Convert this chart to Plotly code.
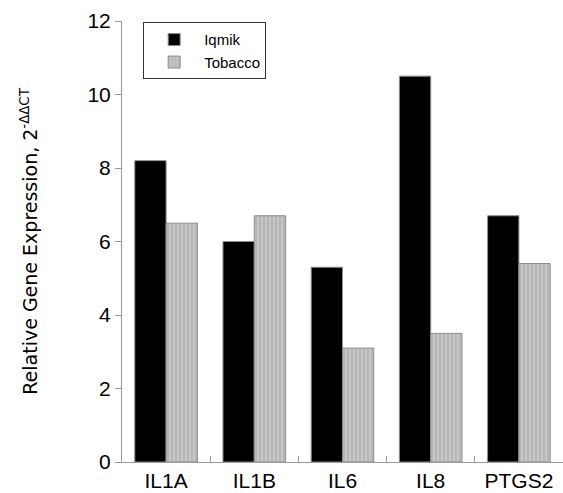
import plotly.graph_objects as go

genes = ["IL1A", "IL1B", "IL6", "IL8", "PTGS2"]
iqmik = [8.2, 6.0, 5.3, 10.5, 6.7]
tobacco = [6.5, 6.7, 3.1, 3.5, 5.4]
y_ticks = [0, 2, 4, 6, 8, 10, 12]

FONT = "Arial, Liberation Sans, sans-serif"
TITLE_FONT = "DejaVu Sans, sans-serif"
AXIS_GRAY = "#9a9a9a"

fig = go.Figure()
fig.add_trace(go.Bar(
    x=genes, y=iqmik, name="Iqmik",
    marker=dict(color="black", line=dict(color="#8c8c8c", width=1)),
))
fig.add_trace(go.Bar(
    x=genes, y=tobacco, name="Tobacco",
    marker=dict(
        color="#c0c0c0",
        line=dict(color="#8c8c8c", width=1),
        pattern=dict(shape="|", bgcolor="#c6c6c6", fgcolor="#9a9a9a",
                     size=4, solidity=0.35),
    ),
))

fig.update_layout(
    width=563, height=493,
    margin=dict(l=122, r=0, t=21, b=31),
    paper_bgcolor="white", plot_bgcolor="white",
    barmode="group", bargap=0.29, bargroupgap=0,
    font=dict(family=FONT, color="black"),
    showlegend=True,
    legend=dict(
        x=0.048, y=0.997, xanchor="left", yanchor="top",
        bordercolor="#333333", borderwidth=1, bgcolor="white",
        font=dict(size=15, family=FONT),
        itemwidth=50, tracegroupgap=0,
    ),
    xaxis=dict(
        type="category", showline=True, linecolor=AXIS_GRAY, linewidth=1,
        ticks="inside", tickson="boundaries", ticklen=6, tickcolor=AXIS_GRAY,
        tickfont=dict(size=21, family=FONT), showgrid=False,
    ),
    yaxis=dict(
        range=[0, 12], tickvals=y_ticks, showline=True, linecolor=AXIS_GRAY,
        linewidth=1, ticks="outside", ticklen=6, tickcolor=AXIS_GRAY,
        tickfont=dict(size=21, family=FONT), showgrid=False, zeroline=False,
        title=dict(text="Relative Gene Expression, 2<sup>-ΔΔCT</sup>",
                   font=dict(size=19, family=TITLE_FONT), standoff=44),
    ),
)

fig.write_html("out.html")
